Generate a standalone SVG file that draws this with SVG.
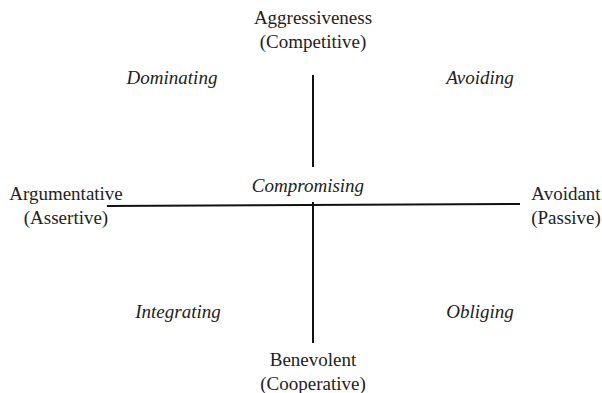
<svg xmlns="http://www.w3.org/2000/svg" width="602" height="393" viewBox="0 0 602 393">
<style>
text{font-family:"Liberation Serif","Times New Roman",serif;font-size:19px;fill:#222;text-anchor:middle}
.i{font-style:italic}
.ax{stroke:#111;stroke-width:2;fill:none}
</style>
<rect width="602" height="393" fill="#fff"/>
<g id="connectors">
<line class="ax" x1="313" y1="75" x2="313" y2="167"/>
<line class="ax" x1="313" y1="202" x2="313" y2="343"/>
<line class="ax" x1="107" y1="206" x2="520" y2="204"/>
</g>
<g id="aggressiveness"><text x="313" y="24">Aggressiveness</text><text x="313" y="48">(Competitive)</text></g>
<g id="argumentative"><text x="66" y="200">Argumentative</text><text x="66" y="224">(Assertive)</text></g>
<g id="avoidant"><text x="566" y="200">Avoidant</text><text x="566" y="224">(Passive)</text></g>
<g id="benevolent"><text x="313" y="366">Benevolent</text><text x="313" y="390">(Cooperative)</text></g>
<g id="dominating"><text class="i" x="172" y="84">Dominating</text></g>
<g id="avoiding"><text class="i" x="480" y="84">Avoiding</text></g>
<g id="compromising"><text class="i" x="308" y="192">Compromising</text></g>
<g id="integrating"><text class="i" x="178" y="318">Integrating</text></g>
<g id="obliging"><text class="i" x="480" y="318">Obliging</text></g>
</svg>
